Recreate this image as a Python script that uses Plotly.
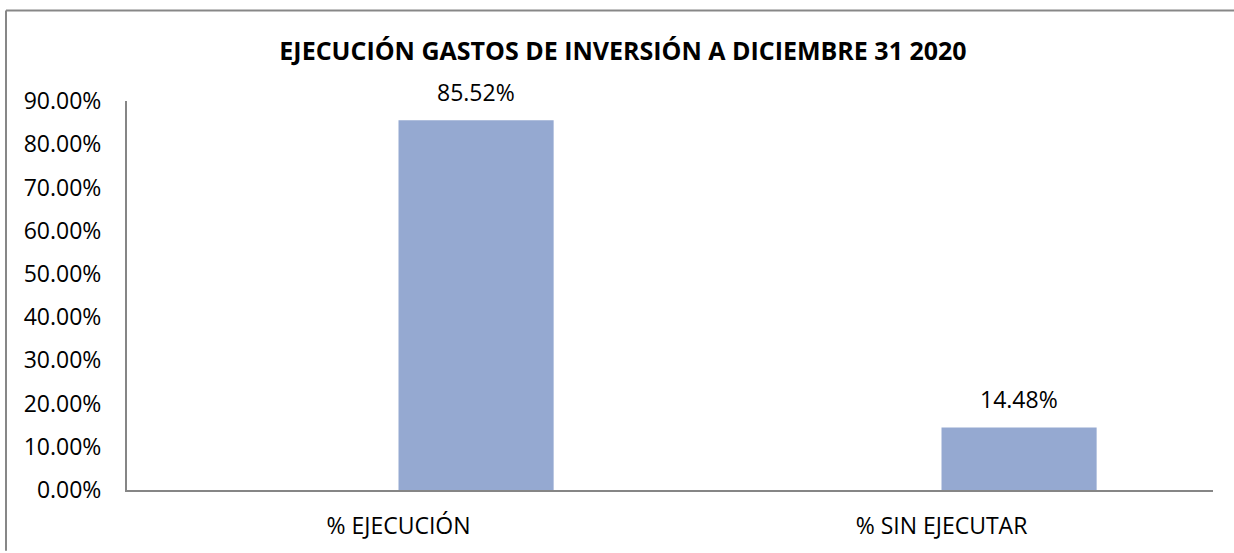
import plotly.graph_objects as go

categories = ["% EJECUCIÓN", "% SIN EJECUTAR"]
values = [0.8552, 0.1448]
labels = ["85.52%", "14.48%"]
title_text = "EJECUCIÓN GASTOS DE INVERSIÓN A DICIEMBRE 31 2020"
tick_vals = [0, 0.1, 0.2, 0.3, 0.4, 0.5, 0.6, 0.7, 0.8, 0.9]

W, H = 1234, 553
ML, MR, MT, MB = 127, 21, 101, 61
FONT = "Open Sans"
BAR_W = 1 / 3.5  # Excel clustered, gap width 150%
PW, PH = W - ML - MR, H - MT - MB

fig = go.Figure()
fig.add_trace(go.Bar(
    x=list(range(len(categories))),
    y=values,
    width=BAR_W,
    offset=0,
    marker=dict(color="#95A9D1", line=dict(width=0)),
    hoverinfo="skip",
))

for i, (v, t) in enumerate(zip(values, labels)):
    fig.add_annotation(
        x=i + BAR_W / 2, y=v, text=t, showarrow=False,
        yanchor="bottom", yshift=10,
        font=dict(family=FONT, size=23, color="#000000"),
    )

# outer chart border (only top and left edges are visible in the frame)
bx0 = (6 - ML) / PW
bx1 = (W - ML) / PW
by_top = 1 + (MT - 10) / PH
by_bot = -MB / PH
border = dict(color="#878787", width=2)

fig.update_layout(
    width=W, height=H,
    margin=dict(l=ML, r=MR, t=MT, b=MB),
    paper_bgcolor="white", plot_bgcolor="white",
    showlegend=False,
    title=dict(
        text="<b>" + title_text + "</b>",
        x=623 / W, xanchor="center",
        y=1 - 51 / H, yanchor="middle",
        font=dict(family=FONT, size=25, color="#000000"),
    ),
    xaxis=dict(
        tickmode="array",
        tickvals=list(range(len(categories))),
        ticktext=categories,
        range=[-0.5, len(categories) - 0.5],
        showgrid=False, zeroline=False,
        showline=True, linecolor="#868686", linewidth=2,
        ticks="", ticklabelstandoff=14,
        tickfont=dict(family=FONT, size=23, color="#000000"),
    ),
    yaxis=dict(
        range=[0, 0.9],
        tickmode="array",
        tickvals=tick_vals,
        tickformat=".2%",
        showgrid=False, zeroline=False,
        showline=True, linecolor="#868686", linewidth=2,
        ticks="", ticklabelstandoff=19,
        tickfont=dict(family=FONT, size=23, color="#000000"),
    ),
    shapes=[
        dict(type="line", xref="paper", yref="paper",
             x0=bx0, x1=bx1, y0=by_top, y1=by_top, line=border, layer="below"),
        dict(type="line", xref="paper", yref="paper",
             x0=bx0, x1=bx0, y0=by_top, y1=by_bot, line=border, layer="below"),
    ],
)

fig.write_html(
    "out.html",
    config={"displayModeBar": False},
    post_script=(
        "document.body.style.margin='0px';"
        "document.body.style.overflow='hidden';"
        "document.documentElement.style.overflow='hidden';"
    ),
)
